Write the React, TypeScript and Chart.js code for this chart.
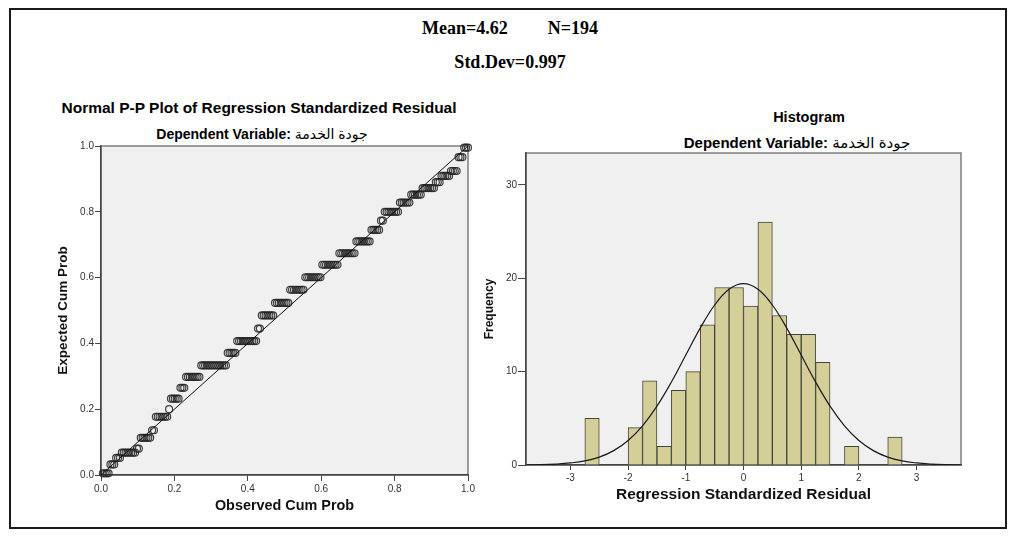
import { useEffect, useRef } from "react";
import { Chart, registerables } from "chart.js";

Chart.register(...registerables);

// ---- Summary values ----
const N = 194;
const MEAN = 4.62;
const STD_DEV = 0.997;
const DEP_VAR = "جودة الخدمة";

// ---- P-P plot: groups of tied residuals (expected cum prob, number of cases) ----
const ppExpected = [
  0.005, 0.032, 0.052, 0.068, 0.08, 0.113, 0.136, 0.177, 0.2, 0.232, 0.265, 0.298,
  0.333, 0.371, 0.407, 0.445, 0.485, 0.523, 0.563, 0.601, 0.639, 0.674, 0.71, 0.745,
  0.773, 0.8, 0.828, 0.852, 0.872, 0.89, 0.909, 0.924, 0.966, 0.995,
];
const ppGroupSize = [
  4, 3, 3, 8, 2, 6, 2, 7, 1, 5, 3, 8,
  14, 5, 11, 2, 7, 8, 8, 9, 9, 9, 8, 5,
  2, 8, 6, 6, 7, 3, 5, 4, 3, 3,
];
const refLineX = [0, 1];
const refLineY = [0, 1];

// ---- Histogram ----
const binCenters = [
  -2.625, -1.875, -1.625, -1.375, -1.125, -0.875, -0.625, -0.375, -0.125,
  0.125, 0.375, 0.625, 0.875, 1.125, 1.375, 1.875, 2.625,
];
const frequencies = [5, 4, 9, 2, 8, 10, 15, 19, 19, 17, 26, 16, 14, 14, 11, 2, 3];

// normal curve
const curveX = [
  -3.75, -3.5, -3.25, -3, -2.75, -2.5, -2.25, -2, -1.75, -1.5, -1.25, -1, -0.75, -0.5, -0.25, 0,
  0.25, 0.5, 0.75, 1, 1.25, 1.5, 1.75, 2, 2.25, 2.5, 2.75, 3, 3.25, 3.5, 3.75,
];
const curveY = [
  0.02, 0.04, 0.1, 0.22, 0.44, 0.85, 1.54, 2.63, 4.2, 6.3, 8.88, 11.77, 14.65, 17.13, 18.81, 19.41,
  18.81, 17.13, 14.65, 11.77, 8.88, 6.3, 4.2, 2.63, 1.54, 0.85, 0.44, 0.22, 0.1, 0.04, 0.02,
];

const ppTicks = ["0.0", "0.2", "0.4", "0.6", "0.8", "1.0"];

const SANS = "'Liberation Sans', Arial, 'DejaVu Sans', sans-serif";
const SERIF = "'Liberation Serif', 'Times New Roman', serif";

const framePlugin = {
  id: "frame",
  beforeDraw(chart: any) {
    const { ctx, chartArea: a } = chart;
    ctx.save();
    ctx.fillStyle = "#f0f0f0";
    ctx.fillRect(a.left, a.top, a.right - a.left, a.bottom - a.top);
    ctx.strokeStyle = "#7d7d7d";
    ctx.lineWidth = 1.5;
    ctx.strokeRect(a.left, a.top, a.right - a.left, a.bottom - a.top);
    ctx.restore();
  },
};

function PPPlot() {
  const ref = useRef<HTMLCanvasElement>(null);
  useEffect(() => {
    const pts: { x: number; y: number }[] = [];
    let rank = 0;
    ppExpected.forEach((y, g) => {
      for (let j = 0; j < ppGroupSize[g]; j++) {
        rank += 1;
        pts.push({ x: rank / N, y });
      }
    });
    const chart = new Chart(ref.current as HTMLCanvasElement, {
      type: "scatter",
      data: {
        datasets: [
          {
            type: "line",
            data: refLineX.map((x, i) => ({ x, y: refLineY[i] })),
            borderColor: "#111",
            borderWidth: 1,
            pointRadius: 0,
            order: 0,
          } as any,
          {
            data: pts,
            pointRadius: 3.5,
            pointBorderWidth: 1.2,
            pointBackgroundColor: "rgba(0,0,0,0)",
            pointBorderColor: "rgba(35,35,35,0.85)",
            clip: 6,
            order: 1,
          } as any,
        ],
      },
      options: {
        responsive: false,
        animation: false,
        events: [],
        layout: { padding: { top: 10, right: 12, left: 0, bottom: 0 } },
        plugins: { legend: { display: false }, tooltip: { enabled: false } },
        scales: {
          x: {
            type: "linear",
            min: 0,
            max: 1,
            ticks: {
              stepSize: 0.2,
              callback: (_v: any, i: number) => ppTicks[i],
              font: { size: 10, family: SANS },
              color: "#333",
              padding: 2,
              maxRotation: 0,
            },
            grid: { drawOnChartArea: false, drawTicks: true, tickLength: 6, color: "#444" },
            border: { color: "#444", width: 1.5 },
            title: {
              display: true,
              text: "Observed Cum Prob",
              font: { size: 14.4, weight: "bold", family: SANS },
              color: "#111",
              padding: { top: 0, bottom: 1 },
            },
            afterFit: (s: any) => {
              s.height = 41;
            },
          },
          y: {
            type: "linear",
            min: 0,
            max: 1,
            ticks: {
              stepSize: 0.2,
              callback: (_v: any, i: number) => ppTicks[i],
              font: { size: 10, family: SANS },
              color: "#333",
              padding: 1,
            },
            grid: { drawOnChartArea: false, drawTicks: true, tickLength: 6, color: "#444" },
            border: { color: "#444", width: 1.5 },
            title: {
              display: true,
              text: "Expected Cum Prob",
              font: { size: 13.5, weight: "bold", family: SANS },
              color: "#111",
              padding: { top: 5, bottom: 0 },
            },
            afterFit: (s: any) => {
              s.width = 51;
            },
          },
        },
      } as any,
      plugins: [framePlugin],
    });
    return () => chart.destroy();
  }, []);
  return (
    <canvas
      ref={ref}
      width={430}
      height={380}
      style={{ position: "absolute", left: 50, top: 136, width: 430, height: 380 }}
    />
  );
}

function HistogramChart() {
  const ref = useRef<HTMLCanvasElement>(null);
  useEffect(() => {
    const chart = new Chart(ref.current as HTMLCanvasElement, {
      type: "bar",
      data: {
        datasets: [
          {
            type: "line",
            data: curveX.map((x, i) => ({ x, y: curveY[i] })),
            borderColor: "#1a1a1a",
            borderWidth: 1.2,
            pointRadius: 0,
            tension: 0.4,
            fill: false,
            order: 0,
          } as any,
          {
            type: "bar",
            data: binCenters.map((x, i) => ({ x, y: frequencies[i] })),
            backgroundColor: "#d4cf98",
            borderColor: "#45453a",
            borderWidth: 1,
            barPercentage: 1,
            categoryPercentage: 1,
            order: 1,
          } as any,
        ],
      },
      options: {
        responsive: false,
        animation: false,
        events: [],
        layout: { padding: { top: 8, right: 14, left: 0, bottom: 0 } },
        plugins: { legend: { display: false }, tooltip: { enabled: false } },
        scales: {
          x: {
            type: "linear",
            min: -3.77,
            max: 3.77,
            offset: false,
            ticks: {
              stepSize: 1,
              includeBounds: false,
              font: { size: 10, family: SANS },
              color: "#333",
              padding: 2,
              maxRotation: 0,
            },
            grid: { offset: false, drawOnChartArea: false, drawTicks: true, tickLength: 5, color: "#444" },
            border: { color: "#444", width: 1.5 },
            title: {
              display: true,
              text: "Regression Standardized Residual",
              font: { size: 15.5, weight: "bold", family: SANS },
              color: "#111",
              padding: { top: 0, bottom: 1 },
            },
            afterFit: (s: any) => {
              s.height = 40;
            },
          },
          y: {
            type: "linear",
            min: 0,
            max: 33.4,
            ticks: {
              stepSize: 10,
              includeBounds: false,
              font: { size: 10, family: SANS },
              color: "#333",
              padding: 1,
            },
            grid: { drawOnChartArea: false, drawTicks: true, tickLength: 8, color: "#444" },
            border: { color: "#444", width: 1.5 },
            title: {
              display: true,
              text: "Frequency",
              font: { size: 12, weight: "bold", family: SANS },
              color: "#111",
              padding: { top: 2, bottom: 0 },
            },
            afterFit: (s: any) => {
              s.width = 46;
            },
          },
        },
      } as any,
      plugins: [framePlugin],
    });
    return () => chart.destroy();
  }, []);
  return (
    <canvas
      ref={ref}
      width={495}
      height={360}
      style={{ position: "absolute", left: 480, top: 145, width: 495, height: 360 }}
    />
  );
}

function CenteredText(props: { x: number; y: number; size: number; family: string; children: any }) {
  return (
    <div
      style={{
        position: "absolute",
        left: props.x,
        top: props.y,
        transform: "translate(-50%, -50%)",
        whiteSpace: "nowrap",
        fontFamily: props.family,
        fontWeight: "bold",
        fontSize: props.size,
        lineHeight: 1,
        color: "#000",
      }}
    >
      {props.children}
    </div>
  );
}

function DepVarLine() {
  return (
    <span dir="ltr">
      Dependent Variable: <span style={{ fontWeight: "normal" }}>{DEP_VAR}</span>
    </span>
  );
}

export default function App() {
  return (
    <div style={{ position: "absolute", left: 0, top: 0, width: 1015, height: 536, background: "#fff" }}>
      <div
        style={{
          position: "absolute",
          left: 9,
          top: 8,
          width: 994,
          height: 517,
          border: "2px solid #1a1a1a",
        }}
      />
      <CenteredText x={510} y={28} size={18} family={SERIF}>
        <span>Mean={MEAN.toFixed(2)}</span>
        <span style={{ marginLeft: 40 }}>N={N}</span>
      </CenteredText>
      <CenteredText x={510} y={62} size={18} family={SERIF}>
        Std.Dev={STD_DEV.toFixed(3)}
      </CenteredText>
      <CenteredText x={259} y={108} size={15.5} family={SANS}>
        Normal P-P Plot of Regression Standardized Residual
      </CenteredText>
      <CenteredText x={262} y={134} size={14} family={SANS}>
        <DepVarLine />
      </CenteredText>
      <CenteredText x={809} y={117} size={14.5} family={SANS}>
        Histogram
      </CenteredText>
      <CenteredText x={797} y={142} size={15} family={SANS}>
        <DepVarLine />
      </CenteredText>
      <PPPlot />
      <HistogramChart />
    </div>
  );
}
